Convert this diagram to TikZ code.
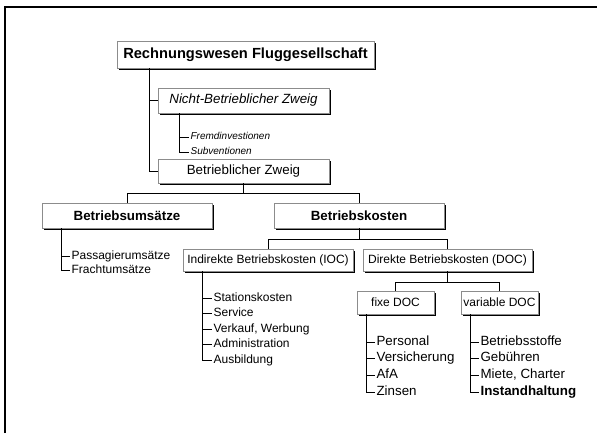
\documentclass[tikz,border=0pt]{standalone}
\usepackage{fontspec}
\setmainfont{Liberation Sans}
\usetikzlibrary{shadows}
\definecolor{mgray}{rgb}{0.55, 0.55, 0.55}
\tikzset{box/.style = {draw = mgray, fill = white, inner sep = 0, drop shadow = {shadow xshift = 1.5pt, shadow yshift = -1.5pt, fill = black, opacity = 1}}}
\tikzset{leaf/.style = {anchor = west, inner sep = 1pt, text height = 7pt, text depth = 2pt}}
\tikzset{tree/.style = {line width = 0.6pt}}

\begin{document}
\begin{tikzpicture}[x = 0.75pt, y = -0.75pt]
    \useasboundingbox (0, 0) rectangle (597, 433);
    \draw [line width = 1.5pt] (5, 433) -- (5, 7) -- (597, 7);

    \node [box, minimum width = 192.75pt, minimum height = 20.25pt, font = \fontsize{11}{13}\selectfont\bfseries] (root) at (245.5, 54.5) {Rechnungswesen Fluggesellschaft};
    \node [box, minimum width = 128.25pt, minimum height = 18.75pt, font = \fontsize{10}{12}\selectfont\itshape] (nicht) at (243.5, 100.5) {Nicht-Betrieblicher Zweig};
    \node [box, minimum width = 128.25pt, minimum height = 18pt, font = \fontsize{10}{12}\selectfont] (betr) at (243.5, 171) {Betrieblicher Zweig};
    \node [box, minimum width = 127.5pt, minimum height = 18.75pt, font = \fontsize{10}{12}\selectfont\bfseries] (umsatz) at (127, 215.5) {Betriebsumsätze};
    \node [box, minimum width = 127.5pt, minimum height = 18.75pt, font = \fontsize{10}{12}\selectfont\bfseries] (kosten) at (359, 215.5) {Betriebskosten};
    \node [box, minimum width = 127.5pt, minimum height = 16.5pt, font = \fontsize{9}{11}\selectfont] (ioc) at (268, 260) {Indirekte Betriebskosten (IOC)};
    \node [box, minimum width = 126.75pt, minimum height = 16.5pt, font = \fontsize{9}{11}\selectfont] (doc) at (447.5, 260) {Direkte Betriebskosten (DOC)};
    \node [box, minimum width = 57.75pt, minimum height = 17.25pt, font = \fontsize{9}{11}\selectfont] (fixe) at (395.5, 302.5) {fixe DOC};
    \node [box, minimum width = 57.75pt, minimum height = 17.25pt, font = \fontsize{9}{11}\selectfont] (var) at (499.5, 302.5) {variable DOC};

    \begin{scope}[font = \fontsize{7.5}{9}\selectfont\itshape]
      \node [leaf, text height = 5.5pt, text depth = 1.5pt] (fremd) at (189, 137) {Fremdinvestionen};
      \node [leaf, text height = 5.5pt, text depth = 1.5pt] (subv) at (189, 152) {Subventionen};
    \end{scope}
    \begin{scope}[font = \fontsize{9}{11}\selectfont]
      \node [leaf] (pass) at (70, 256) {Passagierumsätze};
      \node [leaf] (fracht) at (70, 270) {Frachtumsätze};
      \node [leaf] (station) at (212, 298) {Stationskosten};
      \node [leaf] (service) at (212, 313) {Service};
      \node [leaf] (verkauf) at (212, 329) {Verkauf, Werbung};
      \node [leaf] (admin) at (212, 344) {Administration};
      \node [leaf] (ausb) at (212, 360) {Ausbildung};
    \end{scope}
    \begin{scope}[font = \fontsize{10}{12}\selectfont]
      \node [leaf] (personal) at (375, 342) {Personal};
      \node [leaf] (versich) at (375, 358) {Versicherung};
      \node [leaf] (afa) at (375, 375) {AfA};
      \node [leaf] (zinsen) at (375, 392) {Zinsen};
      \node [leaf] (stoffe) at (479, 342) {Betriebsstoffe};
      \node [leaf] (gebuehr) at (479, 358) {Gebühren};
      \node [leaf] (miete) at (479, 375) {Miete, Charter};
      \node [leaf, font = \fontsize{10}{12}\selectfont\bfseries] (instand) at (479, 392) {Instandhaltung};
    \end{scope}

    \draw [tree] ([xshift = 24.75pt]root.south west) |- (nicht.west);
    \draw [tree] ([xshift = 24.75pt]root.south west) |- (betr.west);
    \foreach \n in {fremd, subv}
      \draw [tree] ([xshift = 16.5pt]nicht.south west) |- (\n.west);
    \foreach \n in {pass, fracht}
      \draw [tree] ([xshift = 15pt]umsatz.south west) |- (\n.west);
    \foreach \n in {station, service, verkauf, admin, ausb}
      \draw [tree] ([xshift = 15pt]ioc.south west) |- (\n.west);
    \foreach \n in {personal, versich, afa, zinsen}
      \draw [tree] ([xshift = 7.5pt]fixe.south west) |- (\n.west);
    \foreach \n in {stoffe, gebuehr, miete, instand}
      \draw [tree] ([xshift = 7.5pt]var.south west) |- (\n.west);

    \draw [tree] (betr.south) -- ++(0, 10) -| (umsatz.north);
    \draw [tree] (betr.south) -- ++(0, 10) -| (kosten.north);
    \draw [tree] (kosten.south) -- ++(0, 11) -| (ioc.north);
    \draw [tree] (kosten.south) -- ++(0, 11) -| (doc.north);
    \draw [tree] (doc.south) -- ++(0, 11) -| (fixe.north);
    \draw [tree] (doc.south) -- ++(0, 11) -| (var.north);

  \end{tikzpicture}
\end{document}
